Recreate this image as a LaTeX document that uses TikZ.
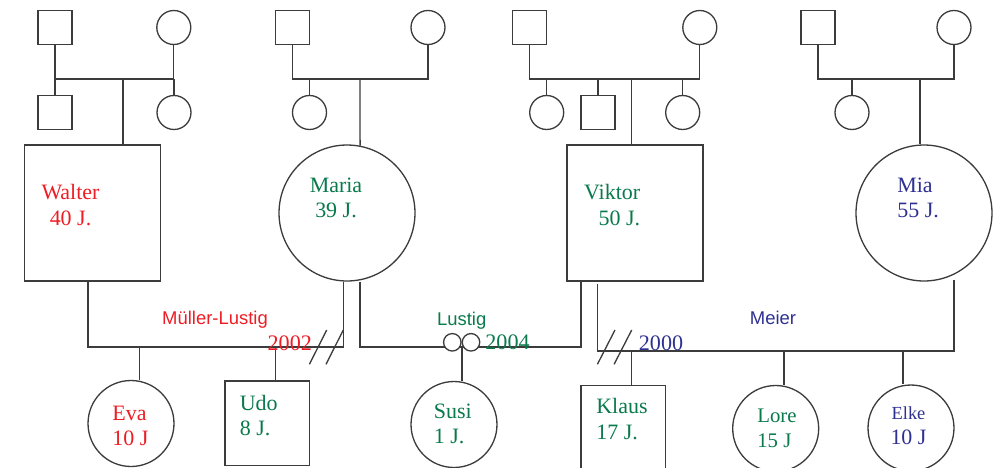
\documentclass[tikz,border=0pt]{standalone}
\usepackage{fontspec}
\setmainfont{Liberation Serif}
\setsansfont{Liberation Sans}
\usetikzlibrary{positioning,calc}
\definecolor{crot}{HTML}{EE1D25}
\definecolor{cgruen}{HTML}{0A7A4C}
\definecolor{cblau}{HTML}{2E3192}
\definecolor{clinie}{HTML}{3C3C3C}
\tikzset{
  person/.style={draw=clinie,line width=0.75pt,inner sep=0pt,fill=white},
  mann/.style={person,rectangle,minimum size=0.68cm},
  frau/.style={person,circle,minimum size=0.68cm},
  mannG/.style={person,rectangle,minimum size=2.72cm},
  frauG/.style={person,circle,minimum size=2.72cm},
  mannK/.style={person,rectangle,minimum size=1.69cm},
  frauK/.style={person,circle,minimum size=1.72cm},
  ring/.style={person,circle,minimum size=0.35cm},
  linie/.style={draw=clinie,line width=0.75pt},
  trenn/.style={linie},
  nm/.style={inner sep=0pt,font=\fontsize{12.5}{14.3}\selectfont},
  fam/.style={inner sep=0pt,anchor=base,font=\sffamily\fontsize{10.5}{12}\selectfont},
  jahr/.style={inner sep=0pt,anchor=base,font=\fontsize{12.6}{14}\selectfont},
}
\begin{document}
\begin{tikzpicture}[x=0.02cm,y=-0.02cm]
\useasboundingbox (0,0) rectangle (998,467);
\clip (0,0) rectangle (998,467);

% Eltern von Walter
\node[mann] (vW) at (55,27.5) {};
\node[frau] (mW) at (173.8,27.5) {};
\node[mann] (bW) at (55,112.5) {};
\node[frau] (sW) at (174,112.5) {};
\node[mannG] (walter) at (92.3,213) {};
\coordinate (eW) at (123,79);
\draw[linie] (vW.south) |- (eW) -| (mW.south);
\draw[linie] (bW.north) -- (bW.north |- eW);
\draw[linie] (sW.north) -- (sW.north |- eW);
\draw[linie] (eW) -- (eW |- walter.north);

% Eltern von Maria
\node[mann] (vM) at (292.5,27.5) {};
\node[frau] (mM) at (428,27.5) {};
\node[frau] (sM) at (309.5,112.5) {};
\node[frauG] (maria) at (347,213) {};
\coordinate (eM) at (360,79);
\draw[linie] (vM.south) |- (eM) -| (mM.south);
\draw[linie] (sM.north) -- (sM.north |- eM);
\draw[linie] (eM) -- (maria.79);

% Eltern von Viktor
\node[mann] (vV) at (529.8,27.5) {};
\node[frau] (mV) at (699.8,27.5) {};
\node[frau] (s1V) at (546.7,112.5) {};
\node[mann] (s2V) at (598,112.5) {};
\node[frau] (s3V) at (682.7,112.5) {};
\node[mannG] (viktor) at (635,213) {};
\coordinate (eV) at (631.7,79);
\draw[linie] (vV.south) |- (eV) -| (mV.south);
\foreach \k in {s1V,s2V,s3V}
  \draw[linie] (\k.north) -- (\k.north |- eV);
\draw[linie] (eV) -- (eV |- viktor.north);

% Eltern von Mia
\node[mann] (vMi) at (818,27.5) {};
\node[frau] (mMi) at (954,27.5) {};
\node[frau] (sMi) at (852,112.5) {};
\node[frauG] (mia) at (924,213) {};
\coordinate (eMi) at (920,79);
\draw[linie] (vMi.south) |- (eMi) -| (mMi.south);
\draw[linie] (sMi.north) -- (sMi.north |- eMi);
\draw[linie] (eMi) -- (eMi |- mia.north);

% Namen der Eltern
\node[nm,text=crot,align=center] (walterT) at (70.5,205) {Walter\\40 J.};
\node[nm,text=cgruen,align=center] (mariaT) at (336,197.5) {Maria\\39 J.};
\node[nm,text=cgruen,align=right,anchor=east] (viktorT) at (640.5,205) {Viktor\\50 J.};
\node[nm,text=cblau,align=left,anchor=west] (miaT) at (897,198) {Mia\\55 J.};

% Kinder
\node[frauK] (eva) at (131,423.5) {};
\node[mannK] (udo) at (267.2,423.2) {};
\node[frauK] (susi) at (454,424.5) {};
\node[mannK] (klaus) at (623.2,427.5) {};
\node[frauK] (lore) at (775.7,428.5) {};
\node[frauK] (elke) at (911,428) {};

\node[nm,text=crot,align=left,anchor=west] (evaT) at (112,426) {Eva\\10 J};
\node[nm,text=cgruen,align=left,anchor=west] (udoT) at (239.5,415.3) {Udo\\8 J.};
\node[nm,text=cgruen,align=left,anchor=west] (susiT) at (433.5,423.8) {Susi\\1 J.};
\node[nm,text=cgruen,align=left,anchor=west] (klausT) at (596,419) {Klaus\\17 J.};
\node[nm,text=cgruen,align=left,anchor=west,font=\fontsize{11.8}{14.3}\selectfont] (loreT) at (757,428.3) {Lore\\15 J};
\node[nm,text=cblau,align=center] (elkeT) at (908.5,425.8) {{\fontsize{10.5}{12}\selectfont Elke}\\10 J};

% Ehe Mueller-Lustig (geschieden)
\coordinate (mlL) at (88,347);
\coordinate (mlR) at (343.3,347);
\draw[linie] (walter.south -| mlL) -- (mlL) -- (mlR) -- (maria.south -| mlR);
\foreach \x in {326.7,343.3}
  \draw[trenn] (\x,330) -- ++(-17.3,34.3);
\coordinate (kE) at (139.7,347);
\coordinate (kU) at (275.3,347);
\draw[linie] (kE) -- (kE |- eva.north);
\draw[linie] (kU) -- (kU |- udo.north);

% Ehe Lustig
\coordinate (luL) at (360,347);
\coordinate (luR) at (581,347);
\draw[linie] (maria.south -| luL) -- (luL) -- (luR) -- (viktor.south -| luR);
\coordinate (kS) at (462,347);
\draw[linie] (kS) -- (kS |- susi.north);
\node[ring] (r1) at (452.3,342.3) {};
\node[ring] (r2) at (471,342.3) {};

% Ehe Meier
\coordinate (meL) at (597.7,351);
\coordinate (meR) at (954,351);
\draw[linie] ($(viktor.south -| meL)+(0,2)$) -- (meL) -- (meR) -- ($(mia.south)+(30,-2)$);
\foreach \x in {615,631.7}
  \draw[trenn] (\x,330) -- ++(-17.6,34.3);
\coordinate (kK) at (631.7,351);
\coordinate (kL) at (784,351);
\coordinate (kEl) at (903,351);
\draw[linie] (kK) -- (kK |- klaus.north);
\draw[linie] (kL) -- (kL |- lore.north);
\draw[linie] (kEl) -- (kEl |- elke.north);

% Familiennamen und Jahre
\node[fam,text=crot] (fML) at (215,324) {Müller-Lustig};
\node[jahr,text=crot] (j2002) at (289.8,350) {2002};
\node[fam,text=cgruen] (fLu) at (461.7,325) {Lustig};
\node[jahr,text=cgruen] (j2004) at (507.5,349) {2004};
\node[fam,text=cblau] (fMe) at (773,324) {Meier};
\node[jahr,text=cblau] (j2000) at (661,350) {2000};

\end{tikzpicture}
\end{document}
